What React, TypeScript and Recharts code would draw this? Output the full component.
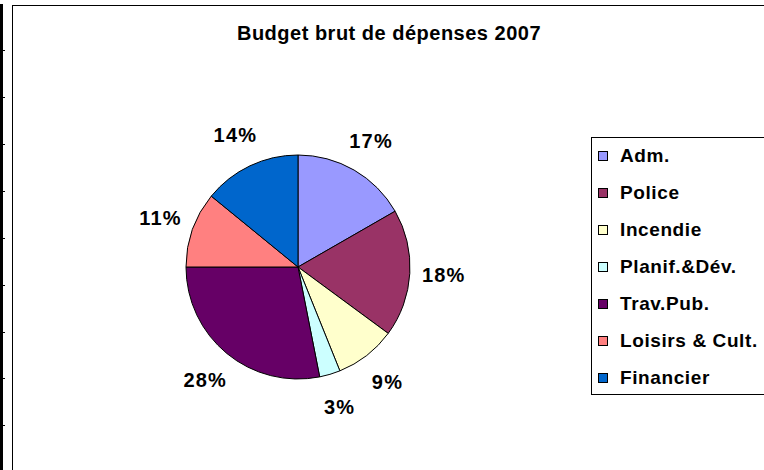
import { PieChart, Pie, Cell } from 'recharts';

const categories = ['Adm.', 'Police', 'Incendie', 'Planif.&Dév.', 'Trav.Pub.', 'Loisirs & Cult.', 'Financier'];
const shares = [16.7, 18.4, 8.8, 3.0, 28.1, 10.9, 14.1];
const colors = ['#9999FF', '#993366', '#FFFFCC', '#CCFFFF', '#660066', '#FF8080', '#0066CC'];
const title = 'Budget brut de dépenses 2007';

const data = categories.map((name, i) => ({ name, value: shares[i] }));
const total = shares.reduce((a, b) => a + b, 0);

const FONT = '"Liberation Sans", Arial, sans-serif';
const RAD = Math.PI / 180;
const ticks = [50, 97, 144, 191, 238, 285, 332, 378, 425];

const renderLabel = (props: any) => {
    const { cx, cy, midAngle, outerRadius, value } = props;
    const r = outerRadius + 34;
    const x = cx + r * Math.cos(-midAngle * RAD);
    const y = cy + r * Math.sin(-midAngle * RAD);
    return (
        <text x={x} y={y} textAnchor="middle" dominantBaseline="central" fontFamily={FONT} fontWeight="bold" fontSize={20} letterSpacing={1.2} fill="#000">
            {`${Math.round((value / total) * 100)}%`}
        </text>
    );
};

export default function App() {
    return (
        <div style={{ position: 'relative', width: 764, height: 470, overflow: 'hidden', background: '#fff' }}>
            <style>{'body{margin:0}'}</style>
            <div style={{ position: 'absolute', left: 0, top: 4, width: 3, height: 466, background: '#000' }} />
            {ticks.map((t) => (
                <div key={t} style={{ position: 'absolute', left: 0, top: t, width: 5, height: 1, background: '#000' }} />
            ))}
            <div style={{ position: 'absolute', left: 12, top: 5, width: 800, height: 500, borderLeft: '1px solid #000', borderTop: '1px solid #000' }} />
            <div style={{ position: 'absolute', left: 189, width: 400, top: 22, textAlign: 'center', fontFamily: FONT, fontWeight: 'bold', fontSize: 20, letterSpacing: 0.5 }}>
                {title}
            </div>
            <div style={{ position: 'absolute', left: 0, top: 0 }}>
                <PieChart width={764} height={470} margin={{ top: 0, right: 0, bottom: 0, left: 0 }}>
                    <Pie
                        data={data}
                        dataKey="value"
                        nameKey="name"
                        cx={298}
                        cy={267}
                        outerRadius={112}
                        startAngle={90}
                        endAngle={-270}
                        stroke="#000"
                        strokeWidth={1}
                        label={renderLabel}
                        labelLine={false}
                        isAnimationActive={false}
                    >
                        {data.map((d, i) => (
                            <Cell key={d.name} fill={colors[i]} />
                        ))}
                    </Pie>
                </PieChart>
            </div>
            <div style={{ position: 'absolute', left: 591, top: 137, width: 200, height: 258, border: '1px solid #000', boxSizing: 'border-box', background: '#fff' }}>
                {categories.map((name, i) => (
                    <div key={name} style={{ display: 'flex', alignItems: 'center', height: 36.9, paddingLeft: 6 }}>
                        <span style={{ width: 10, height: 10, background: colors[i], border: '1px solid #000', boxSizing: 'border-box', marginRight: 12, flexShrink: 0 }} />
                        <span style={{ fontFamily: FONT, fontWeight: 'bold', fontSize: 19, letterSpacing: 0.6, color: '#000', whiteSpace: 'nowrap' }}>{name}</span>
                    </div>
                ))}
            </div>
        </div>
    );
}
